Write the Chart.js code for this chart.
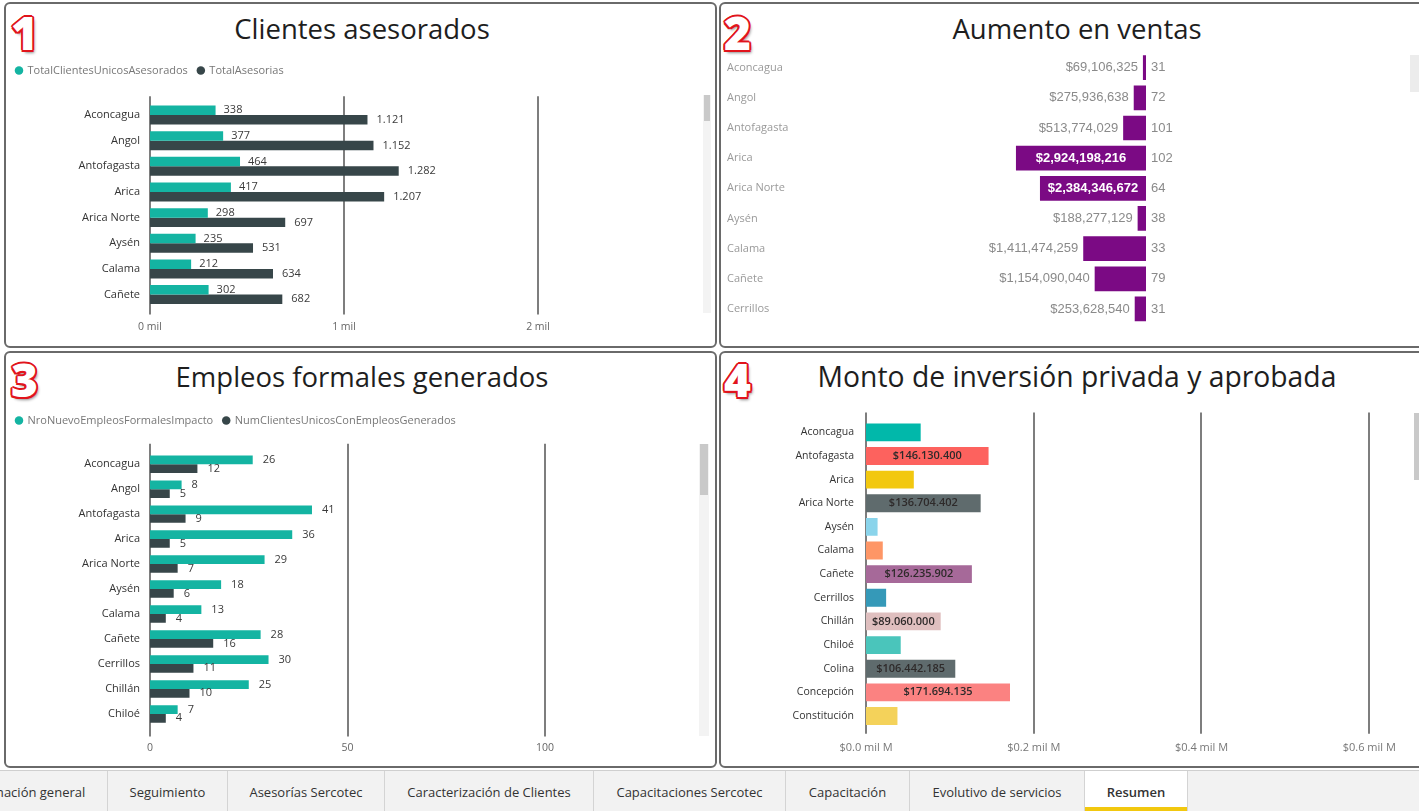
<!DOCTYPE html>
<html lang="es">
<head>
<meta charset="utf-8">
<title>Resumen</title>
<script src="https://cdn.jsdelivr.net/npm/chart.js@4.4.1/dist/chart.umd.min.js"></script>
<style>
html,body{margin:0;padding:0;width:1419px;height:811px;overflow:hidden;background:#fff;font-family:'Open Sans',sans-serif;}
.panel{position:absolute;box-sizing:border-box;border:2px solid #6a6a6a;border-radius:6px;background:#fff;}
.title{position:absolute;font-size:27.5px;line-height:34px;color:#1e1e1e;white-space:nowrap;transform:translateX(-50%);}
.num{position:absolute;font-family:'Open Sans',sans-serif;font-weight:800;font-size:46px;line-height:46px;color:#fff;
  text-shadow:2px 0 0 #e1141c,-2px 0 0 #e1141c,0 2px 0 #e1141c,0 -2px 0 #e1141c,1.5px 1.5px 0 #e1141c,-1.5px -1.5px 0 #e1141c,1.5px -1.5px 0 #e1141c,-1.5px 1.5px 0 #e1141c,2px 3px 3px rgba(0,0,0,.45);}
canvas{position:absolute;}
.scroll{position:absolute;background:#c9c9c9;}
.track{position:absolute;background:#f3f3f3;}
#tabs{position:absolute;left:0;top:770px;width:1419px;height:41px;background:#f2f2f2;border-top:1px solid #cfcfcf;box-sizing:border-box;}
.tab{position:absolute;top:0;height:40px;line-height:42px;text-align:center;font-size:13px;color:#333;white-space:nowrap;border-right:1px solid #d4d4d4;box-sizing:border-box;overflow:hidden;}
.tab.sel{background:#fff;font-weight:600;}
.tab.sel:after{content:"";position:absolute;left:0;right:0;bottom:0;height:4px;background:#F2C80F;}
</style>
</head>
<body>
<div class="panel" style="left:4px;top:2px;width:713px;height:346px"></div>
<div class="panel" style="left:719px;top:2px;width:712px;height:346px"></div>
<div class="panel" style="left:4px;top:351px;width:713px;height:417px"></div>
<div class="panel" style="left:719px;top:351px;width:712px;height:417px"></div>

<div class="title" style="left:362px;top:12px">Clientes asesorados</div>
<div class="title" style="left:1077px;top:12px">Aumento en ventas</div>
<div class="title" style="left:362px;top:360px">Empleos formales generados</div>
<div class="title" style="left:1077px;top:359px;font-size:28.3px">Monto de inversión privada y aprobada</div>

<div class="num" style="left:11px;top:9px">1</div>
<div class="num" style="left:724px;top:9px">2</div>
<div class="num" style="left:11px;top:356px">3</div>
<div class="num" style="left:724px;top:356px">4</div>

<div class="track" style="left:703px;top:95px;width:8px;height:218px"></div>
<div class="scroll" style="left:704px;top:95px;width:6px;height:26px"></div>
<div class="scroll" style="left:1410px;top:55px;width:9px;height:37px;background:#ececec"></div>
<div class="track" style="left:699px;top:444px;width:10px;height:292px"></div>
<div class="scroll" style="left:700px;top:444px;width:8px;height:51px"></div>
<div class="scroll" style="left:1414px;top:413px;width:5px;height:67px"></div>

<canvas id="c1" width="708" height="298" style="left:6px;top:48px"></canvas>
<canvas id="c2" width="688" height="298" style="left:721px;top:43px"></canvas>
<canvas id="c3" width="708" height="372" style="left:6px;top:397px"></canvas>
<canvas id="c4" width="688" height="372" style="left:721px;top:395px"></canvas>

<div id="tabs">
  <div class="tab" style="left:-59px;width:167px">Información general</div>
  <div class="tab" style="left:108px;width:120px">Seguimiento</div>
  <div class="tab" style="left:228px;width:157px">Asesorías Sercotec</div>
  <div class="tab" style="left:385px;width:209px">Caracterización de Clientes</div>
  <div class="tab" style="left:594px;width:192px">Capacitaciones Sercotec</div>
  <div class="tab" style="left:786px;width:124px">Capacitación</div>
  <div class="tab" style="left:910px;width:175px">Evolutivo de servicios</div>
  <div class="tab sel" style="left:1085px;width:103px">Resumen</div>
</div>

<script>
// ---------- Data ----------
// 1. Clientes asesorados
const regiones1 = ['Aconcagua','Angol','Antofagasta','Arica','Arica Norte','Aysén','Calama','Cañete'];
const totalClientesUnicosAsesorados = [338,377,464,417,298,235,212,302];
const totalAsesorias = [1121,1152,1282,1207,697,531,634,682];
const ticks1 = [0,1000,2000];

// 2. Aumento en ventas
const regiones2 = ['Aconcagua','Angol','Antofagasta','Arica','Arica Norte','Aysén','Calama','Cañete','Cerrillos'];
const aumentoVentas = [69106325,275936638,513774029,2924198216,2384346672,188277129,1411474259,1154090040,253628540];
const clientesVentas = [31,72,101,102,64,38,33,79,31];

// 3. Empleos formales generados
const regiones3 = ['Aconcagua','Angol','Antofagasta','Arica','Arica Norte','Aysén','Calama','Cañete','Cerrillos','Chillán','Chiloé'];
const nroNuevoEmpleosFormalesImpacto = [26,8,41,36,29,18,13,28,30,25,7];
const numClientesUnicosConEmpleosGenerados = [12,5,9,5,7,6,4,16,11,10,4];
const ticks3 = [0,50,100];

// 4. Monto de inversión privada y aprobada
const regiones4 = ['Aconcagua','Antofagasta','Arica','Arica Norte','Aysén','Calama','Cañete','Cerrillos','Chillán','Chiloé','Colina','Concepción','Constitución'];
const montoInversion = [65200000,146130400,57000000,136704402,13800000,20000000,126235902,24000000,89060000,41400000,106442185,171694135,37500000];
const coloresInversion = ['#01B8AA','#FD625E','#F2C80F','#5F6B6D','#8AD4EB','#FE9666','#A66999','#3599B8','#DFBFBF','#4AC5BB','#5F6B6D','#FB8281','#F4D25A'];
const ticks4 = [0,200000000,400000000,600000000];

// ---------- Styles ----------
const TEAL = '#14B4A2';
const DARK = '#374649';
const PURPLE = '#7B0A84';
Chart.defaults.font.family = "'Open Sans', sans-serif";
Chart.defaults.animation = false;

const fmtDot = v => v.toLocaleString('de-DE');
const fmtComma = v => v.toLocaleString('en-US');

// vertical grid lines drawn from the x scale ticks, slightly extended
const gridExt = {
  id: 'gridExt',
  beforeDatasetsDraw(chart, args, o) {
    if (!o || !o.on) return;
    const {ctx, chartArea: a} = chart, xs = chart.scales.x;
    ctx.save();
    ctx.strokeStyle = o.color; ctx.lineWidth = o.width;
    xs.ticks.forEach(t => {
      const px = Math.round(xs.getPixelForValue(t.value));
      ctx.beginPath();
      ctx.moveTo(px, a.top - o.top);
      ctx.lineTo(px, a.bottom + o.bottom);
      ctx.stroke();
    });
    ctx.restore();
  }
};

// labels to the right of bar ends
function endLabels(id, offs, font, color) {
  return {
    id,
    afterDatasetsDraw(chart) {
      const ctx = chart.ctx;
      ctx.save();
      ctx.font = font; ctx.fillStyle = color;
      ctx.textAlign = 'left'; ctx.textBaseline = 'middle';
      chart.data.datasets.forEach((ds, i) => {
        chart.getDatasetMeta(i).data.forEach((bar, j) => {
          ctx.fillText(fmtDot(ds.data[j]), bar.x + offs[i], bar.y);
        });
      });
      ctx.restore();
    }
  };
}

function legendOpts() {
  return {position:'top', align:'start', weight:3000,
    labels:{usePointStyle:true, pointStyle:'circle', boxWidth:6, boxHeight:6, padding:10, color:'#777', font:{size:11}}};
}

// ---------- Chart 1 ----------
new Chart(document.getElementById('c1'), {
  type: 'bar',
  data: {labels: regiones1, datasets: [
    {label:'TotalClientesUnicosAsesorados', data: totalClientesUnicosAsesorados, backgroundColor: TEAL, categoryPercentage:0.74, barPercentage:1},
    {label:'TotalAsesorias', data: totalAsesorias, backgroundColor: DARK, categoryPercentage:0.74, barPercentage:1}
  ]},
  options: {
    indexAxis:'y', responsive:false,
    layout:{padding:{top:7,left:0,right:14,bottom:0}},
    plugins:{
      legend: legendOpts(),
      title:{display:true, text:'', font:{size:1}, padding:{top:0,bottom:15}},
      tooltip:{enabled:false},
      gridExt:{on:true, top:6, bottom:7, color:'#5e5e5e', width:1.6}
    },
    scales:{
      x:{min:0, max:2835, afterBuildTicks: s => { s.ticks = ticks1.map(v => ({value:v})); },
         ticks:{padding:13, color:'#666', font:{size:10.5}, callback: v => (v/1000)+' mil'},
         grid:{display:false, drawTicks:false}, border:{display:false}},
      y:{ticks:{padding:10, color:'#333', font:{size:11}}, grid:{display:false, drawTicks:false}, border:{display:false},
         afterFit: s => { s.width = 144; }}
    }
  },
  plugins:[gridExt, endLabels('lab1', [8, 9], "11px 'Open Sans'", '#3a3a3a')]
});

// ---------- Chart 2 ----------
const ventasLabels = {
  id:'ventasLabels',
  afterDatasetsDraw(chart) {
    const ctx = chart.ctx, a = chart.chartArea, ds = chart.data.datasets[0];
    ctx.save();
    ctx.textBaseline = 'middle';
    chart.getDatasetMeta(0).data.forEach((bar, j) => {
      const txt = '$' + fmtComma(ds.data[j]);
      const left = Math.min(bar.x, bar.base), right = Math.max(bar.x, bar.base);
      ctx.font = "bold 13px 'Liberation Sans', Arial, sans-serif";
      const w = ctx.measureText(txt).width;
      if (right - left > w + 10) {
        ctx.fillStyle = '#fff'; ctx.textAlign = 'center';
        ctx.fillText(txt, (left + right) / 2, bar.y);
      } else {
        ctx.font = "13px 'Liberation Sans', Arial, sans-serif";
        ctx.fillStyle = '#8a8a8a'; ctx.textAlign = 'right';
        ctx.fillText(txt, left - 5, bar.y);
      }
      ctx.font = "13px 'Liberation Sans', Arial, sans-serif";
      ctx.fillStyle = '#8a8a8a'; ctx.textAlign = 'left';
      ctx.fillText(String(clientesVentas[j]), a.right + 5, bar.y);
    });
    ctx.restore();
  }
};
new Chart(document.getElementById('c2'), {
  type:'bar',
  data:{labels: regiones2, datasets:[{label:'Aumento en ventas', data: aumentoVentas, backgroundColor: PURPLE, categoryPercentage:0.82, barPercentage:1}]},
  options:{
    indexAxis:'y', responsive:false,
    layout:{padding:{top:3,left:6,right:263,bottom:17}},
    plugins:{legend:{display:false}, tooltip:{enabled:false}},
    scales:{
      x:{display:false, reverse:true, min:0, max:7.78e9},
      y:{ticks:{crossAlign:'far', color:'#9a9a9a', font:{size:11}}, grid:{display:false, drawTicks:false}, border:{display:false},
         afterFit: s => { s.width = 73; }}
    }
  },
  plugins:[ventasLabels]
});

// ---------- Chart 3 ----------
new Chart(document.getElementById('c3'), {
  type: 'bar',
  data: {labels: regiones3, datasets: [
    {label:'NroNuevoEmpleosFormalesImpacto', data: nroNuevoEmpleosFormalesImpacto, backgroundColor: TEAL, categoryPercentage:0.7, barPercentage:1},
    {label:'NumClientesUnicosConEmpleosGenerados', data: numClientesUnicosConEmpleosGenerados, backgroundColor: DARK, categoryPercentage:0.7, barPercentage:1}
  ]},
  options: {
    indexAxis:'y', responsive:false,
    layout:{padding:{top:8,left:0,right:18,bottom:0}},
    plugins:{
      legend: legendOpts(),
      title:{display:true, text:'', font:{size:1}, padding:{top:0,bottom:14.5}},
      tooltip:{enabled:false},
      gridExt:{on:true, top:8, bottom:10, color:'#5e5e5e', width:1.6}
    },
    scales:{
      x:{min:0, max:138.2, afterBuildTicks: s => { s.ticks = ticks3.map(v => ({value:v})); },
         ticks:{padding:15, color:'#666', font:{size:10.5}},
         grid:{display:false, drawTicks:false}, border:{display:false}},
      y:{ticks:{padding:10, color:'#333', font:{size:11}}, grid:{display:false, drawTicks:false}, border:{display:false},
         afterFit: s => { s.width = 144; }}
    }
  },
  plugins:[gridExt, endLabels('lab3', [10, 10], "11px 'Open Sans'", '#3a3a3a')]
});

// ---------- Chart 4 ----------
const invLabels = {
  id:'invLabels',
  afterDatasetsDraw(chart) {
    const ctx = chart.ctx, ds = chart.data.datasets[0];
    ctx.save();
    ctx.font = "600 11px 'Open Sans'"; ctx.textAlign = 'center'; ctx.textBaseline = 'middle';
    ctx.fillStyle = '#2e2a2a';
    chart.getDatasetMeta(0).data.forEach((bar, j) => {
      const txt = '$' + fmtDot(ds.data[j]);
      const w = ctx.measureText(txt).width;
      if (bar.x - bar.base > w + 8) ctx.fillText(txt, (bar.x + bar.base) / 2, bar.y);
    });
    ctx.restore();
  }
};
new Chart(document.getElementById('c4'), {
  type:'bar',
  data:{labels: regiones4, datasets:[{label:'Monto', data: montoInversion, backgroundColor: coloresInversion, categoryPercentage:0.755, barPercentage:1}]},
  options:{
    indexAxis:'y', responsive:false,
    layout:{padding:{top:25.5,left:0,right:9,bottom:0}},
    plugins:{legend:{display:false}, tooltip:{enabled:false},
      gridExt:{on:true, top:8, bottom:6, color:'#5e5e5e', width:1.6}},
    scales:{
      x:{min:0, max:613.8e6, afterBuildTicks: s => { s.ticks = ticks4.map(v => ({value:v})); },
         ticks:{padding:13, color:'#777', font:{size:11}, callback: v => '$' + (v/1e9).toFixed(1) + ' mil M'},
         grid:{display:false, drawTicks:false}, border:{display:false}},
      y:{ticks:{padding:12, color:'#333', font:{size:10.5}}, grid:{display:false, drawTicks:false}, border:{display:false},
         afterFit: s => { s.width = 145; }}
    }
  },
  plugins:[gridExt, invLabels]
});
</script>
</body>
</html>
